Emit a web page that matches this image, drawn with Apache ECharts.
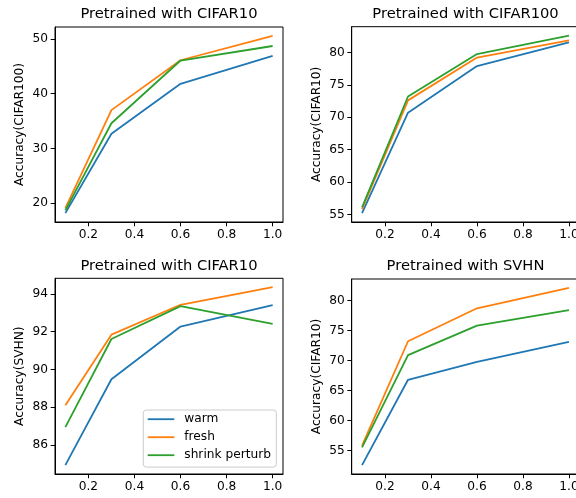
<!DOCTYPE html>
<html>
<head>
<meta charset="utf-8">
<script src="https://cdn.jsdelivr.net/npm/echarts@6/dist/echarts.min.js"></script>
<style>
  html, body { margin: 0; padding: 0; background: #fff; }
  #chart { width: 576px; height: 498px; }
</style>
</head>
<body>
<div id="chart"></div>
<script>
// Fraction of training data used at each step
const fractions = [0.1, 0.3, 0.6, 1.0];
const xTicks = [0.2, 0.4, 0.6, 0.8, 1.0];

// CIFAR10 -> CIFAR100
const c10c100Warm   = [18.2, 32.7, 41.8, 46.9];
const c10c100Fresh  = [19.1, 37.0, 46.1, 50.55];
const c10c100Shrink = [18.7, 34.6, 46.05, 48.7];
const c10c100Ticks  = [20, 30, 40, 50];

// CIFAR100 -> CIFAR10
const c100c10Warm   = [55.2, 70.7, 77.9, 81.55];
const c100c10Fresh  = [55.8, 72.6, 79.2, 81.85];
const c100c10Shrink = [56.1, 73.2, 79.75, 82.6];
const c100c10Ticks  = [55, 60, 65, 70, 75, 80];

// CIFAR10 -> SVHN
const c10svhnWarm   = [84.94, 89.48, 92.27, 93.4];
const c10svhnFresh  = [88.1, 91.84, 93.42, 94.35];
const c10svhnShrink = [86.95, 91.61, 93.35, 92.41];
const c10svhnTicks  = [86, 88, 90, 92, 94];

// SVHN -> CIFAR10
const svhnc10Warm   = [52.55, 66.78, 69.78, 73.1];
const svhnc10Fresh  = [55.8, 73.2, 78.7, 82.1];
const svhnc10Shrink = [55.5, 70.9, 75.8, 78.4];
const svhnc10Ticks  = [55, 60, 65, 70, 75, 80];

const seriesNames = ['warm', 'fresh', 'shrink perturb'];
const colors = ['#1f77b4', '#ff7f0e', '#2ca02c'];

const panels = [
  { title: 'Pretrained with CIFAR10',  ylabel: 'Accuracy(CIFAR100)', data: [c10c100Warm, c10c100Fresh, c10c100Shrink], ticks: c10c100Ticks },
  { title: 'Pretrained with CIFAR100', ylabel: 'Accuracy(CIFAR10)',  data: [c100c10Warm, c100c10Fresh, c100c10Shrink], ticks: c100c10Ticks },
  { title: 'Pretrained with CIFAR10',  ylabel: 'Accuracy(SVHN)',     data: [c10svhnWarm, c10svhnFresh, c10svhnShrink], ticks: c10svhnTicks },
  { title: 'Pretrained with SVHN',     ylabel: 'Accuracy(CIFAR10)',  data: [svhnc10Warm, svhnc10Fresh, svhnc10Shrink], ticks: svhnc10Ticks }
];

// Subplot rectangles (pixels); the right column runs slightly past the canvas edge
const grids = [
  { left: 55,    right: 293,  top: 27,    bottom: 276 },
  { left: 351.7, right: -3.3, top: 26.7,  bottom: 276 },
  { left: 55,    right: 293,  top: 278.3, bottom: 24 },
  { left: 351.7, right: -3.3, top: 279,   bottom: 24 }
];

const FONT = 'DejaVu Sans';

// 5% padding around the data range, like matplotlib autoscaling
function padRange(arrs) {
  const all = arrs.flat();
  const lo = Math.min(...all), hi = Math.max(...all);
  const m = (hi - lo) * 0.05;
  return [lo - m, hi + m];
}
const xr = padRange([fractions]);

const option = {
  animation: false,
  backgroundColor: '#fff',
  textStyle: { fontFamily: FONT },
  title: panels.map((p, i) => {
    const g = grids[i];
    const w = 576 - g.left - g.right;
    return {
      text: p.title,
      left: g.left + w / 2,
      top: g.top - 20,
      textAlign: 'center',
      textStyle: { fontFamily: FONT, fontSize: 14.7, fontWeight: 'normal', color: '#000' },
      padding: 0
    };
  }),
  legend: {
    data: seriesNames,
    orient: 'vertical',
    left: 143.3,
    top: 410,
    icon: 'rect',
    itemWidth: 26.6,
    itemHeight: 1.8,
    itemGap: 6,
    padding: [3.2, 5.4, 5.9, 4.4],
    backgroundColor: 'rgba(255,255,255,0.8)',
    borderColor: '#cccccc',
    borderWidth: 1,
    borderRadius: 3,
    textStyle: { fontFamily: FONT, fontSize: 12.2, color: '#000', padding: [0, 0, 0, 5] },
    itemStyle: { borderWidth: 0 }
  },
  grid: grids.map(g => Object.assign({
    show: true, borderColor: '#000', borderWidth: 1, backgroundColor: 'transparent',
    containLabel: false, outerBoundsMode: 'none'
  }, g)),
  xAxis: panels.map((p, i) => ({
    type: 'value',
    gridIndex: i,
    min: xr[0],
    max: xr[1],
    axisLine: { show: true, lineStyle: { color: '#000', width: 1 } },
    axisTick: { show: true, length: 4.3, customValues: xTicks, lineStyle: { color: '#000', width: 1 } },
    axisLabel: {
      customValues: xTicks,
      margin: 7,
      hideOverlap: false,
      fontFamily: FONT, fontSize: 12.2, color: '#000',
      formatter: v => v.toFixed(1)
    },
    splitLine: { show: false }
  })),
  yAxis: panels.map((p, i) => {
    const yr = padRange(p.data);
    return {
      type: 'value',
      gridIndex: i,
      min: yr[0],
      max: yr[1],
      name: p.ylabel,
      nameLocation: 'middle',
      nameGap: 29,
      nameTextStyle: { fontFamily: FONT, fontSize: 12.2, color: '#000' },
      axisLine: { show: true, lineStyle: { color: '#000', width: 1 } },
      axisTick: { show: true, length: 4.3, customValues: p.ticks, lineStyle: { color: '#000', width: 1 } },
      axisLabel: {
        customValues: p.ticks,
        margin: 7,
        fontFamily: FONT, fontSize: 12.2, color: '#000',
        formatter: v => String(v)
      },
      splitLine: { show: false }
    };
  }),
  series: panels.flatMap((p, i) => p.data.map((vals, k) => ({
    type: 'line',
    name: seriesNames[k],
    xAxisIndex: i,
    yAxisIndex: i,
    data: fractions.map((x, j) => [x, vals[j]]),
    showSymbol: false,
    symbol: 'none',
    color: colors[k],
    lineStyle: { color: colors[k], width: 1.8 },
    emphasis: { disabled: true }
  })))
};

const chart = echarts.init(document.getElementById('chart'), null, { renderer: 'canvas' });
chart.setOption(option);
</script>
</body>
</html>
